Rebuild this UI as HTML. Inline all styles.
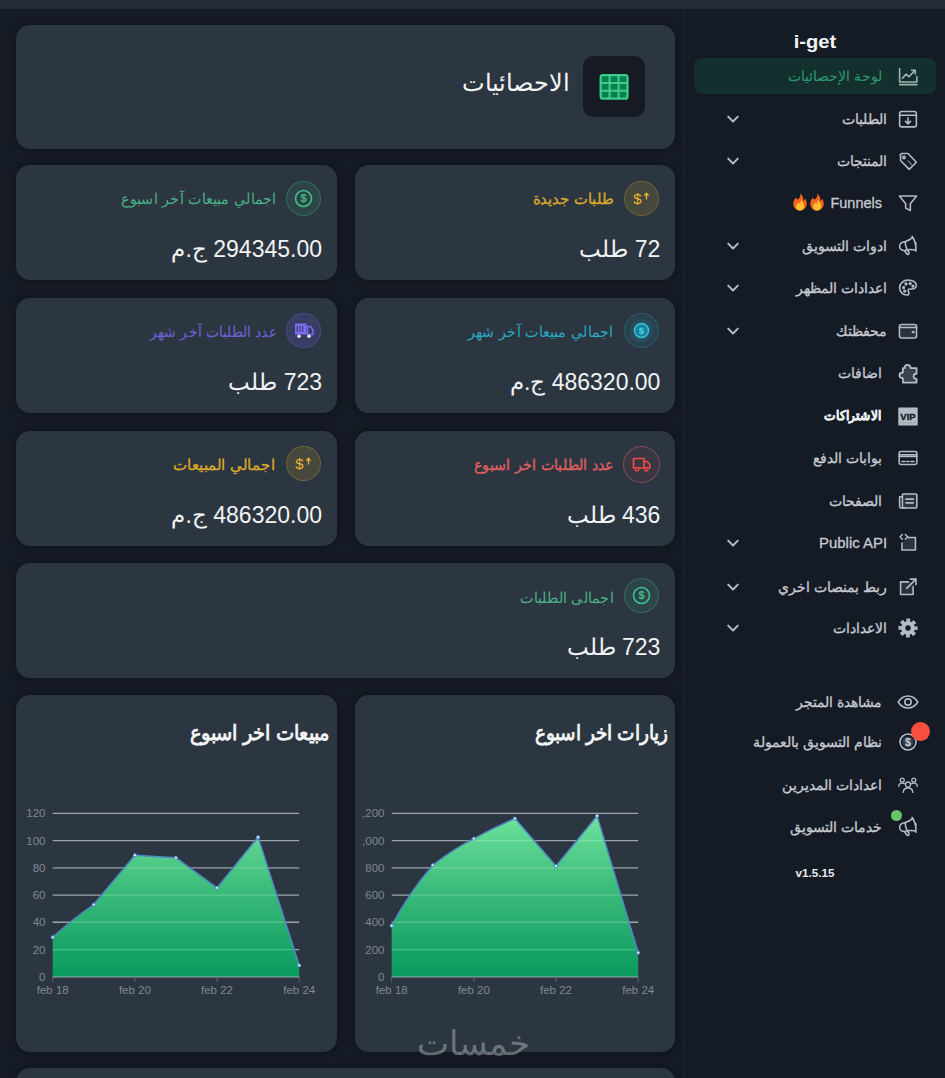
<!DOCTYPE html>
<html lang="ar" dir="rtl">
<head>
<meta charset="utf-8">
<title>i-get - الاحصائيات</title>
<style>
*{box-sizing:border-box;margin:0;padding:0}
html,body{width:945px;height:1078px;overflow:hidden}
body{background:#151b24;color:#e9ecef;font-family:"Liberation Sans",sans-serif;position:relative;direction:rtl}
.topbar{position:absolute;left:0;top:0;width:945px;height:9px;background:#252b34}
/* ---------- sidebar ---------- */
.side{position:absolute;left:686px;top:9px;width:259px;height:1069px;background:#151b24}
.vline{position:absolute;left:683.5px;top:9px;width:1.5px;height:1069px;background:#1d252f}
.brand{position:absolute;left:-1px;width:260px;top:21px;text-align:center;font-weight:bold;font-size:18px;line-height:24px;color:#f1f3f5;direction:ltr;transform:scaleX(1.12)}
.nav{position:absolute;left:8px;width:242px;height:36px;border-radius:8px}
.nav.active{background:#13302e}
.nav .ic{position:absolute;left:202px;top:6px;width:24px;height:24px}
.nav .ic svg{transform:scale(.93)}
.nav #i8 svg{transform:translateY(1px) scale(1.14)}
.nav #i9 svg{transform:none}
.nav .tx{position:absolute;right:54px;top:0;-webkit-text-stroke:.3px currentColor;height:36px;line-height:36px;font-size:14px;color:#c5cad2;white-space:nowrap}
.nav.ch .tx{right:49px}
.nav.active .tx{color:#2f9873;-webkit-text-stroke:0}
.nav .tx.b{right:55.5px;font-weight:bold;color:#eef0f3;font-size:12px;transform:scale(1.03,1.1);transform-origin:100% 50%}
.nav .tx.ltr{direction:ltr;font-size:14.5px}
.nav .chev{position:absolute;left:33px;top:14px;width:12px;height:9px}
.nav .ic svg,.nav .chev svg{display:block}
.fl2{display:inline-block;direction:ltr;white-space:nowrap}
.fl{display:inline-block;width:16px;height:18px;vertical-align:-3px;margin-right:1px}
.ver{position:absolute;left:-1.500px;width:260px;top:857px;transform:scaleX(1.06);text-align:center;font-weight:bold;font-size:11px;line-height:14px;color:#e8eaed;direction:ltr}
.dot-red{position:absolute;left:225px;top:713px;width:19px;height:19px;border-radius:50%;background:#f64e3f}
.dot-green{position:absolute;left:205px;top:801px;width:11px;height:11px;border-radius:50%;background:#66c466}
/* ---------- main ---------- */
.card{position:absolute;background:#2c3641;border-radius:14px;box-shadow:0 0 6px rgba(8,12,18,.55)}
.hicon{position:absolute;left:567px;top:31px;width:62px;height:61px;border-radius:10px;background:#161a23}
.htitle{position:absolute;right:105.5px;top:38px;font-size:24px;line-height:40px;color:#f3f4f6;white-space:nowrap}
.stat .circ{position:absolute;right:16px;top:15.5px;width:35px;height:35px;border-radius:50%;border:1px solid transparent}
.stat .circ svg{display:block;width:33px;height:33px}
.stat .lab{position:absolute;right:61.5px;top:18px;height:32px;line-height:32px;font-size:14px;transform:scale(1.045,1.1);transform-origin:100% 50%;white-space:nowrap}
.stat .val{position:absolute;right:14.6px;top:67px;height:34px;line-height:34px;font-size:23px;color:#f1f3f5;white-space:nowrap}
.ctitle{position:absolute;right:6.5px;top:21px;transform:scale(1.015,1.15);font-size:18px;font-weight:normal;-webkit-text-stroke:.7px #f5f6f7;transform-origin:100% 50%;line-height:34px;color:#f5f6f7;white-space:nowrap}
.wm{position:absolute;left:415px;top:1023px;width:116px;font-size:34px;line-height:40px;color:rgba(165,172,182,.55);white-space:nowrap;text-align:center}
</style>
</head>
<body>
<div class="topbar"></div>
<div class="vline"></div>

<!-- ================= MAIN ================= -->
<main>
<section class="card" style="left:16px;top:24.600px;width:659px;height:124px">
  <div class="hicon"><svg width="62" height="61" viewBox="0 0 62 61" style="display:block"><rect x="17.700" y="19.200" width="26.800" height="23.400" rx="2.200" fill="#0a7f4e" stroke="#3ccb8c" stroke-width="2.300"/><path d="M26.600 19.200v23.400M35.600 19.200v23.400M17.700 27h26.800M17.700 34.800h26.800" stroke="#3ccb8c" stroke-width="2.100" fill="none"/></svg></div>
  <h1 class="htitle" style="font-weight:normal">الاحصائيات</h1>
</section>

<section class="card stat" style="left:354.500px;top:165px;width:320.500px;height:115.400px">
  <div class="circ" id="c1" style="background:#e8b62c24;border-color:#e8b62c3c"><svg viewBox="0 0 33 33"><text x="12.500" y="21.800" font-family="Liberation Sans, sans-serif" font-weight="normal" font-size="15" text-anchor="middle" fill="#e8b62c" direction="ltr">$</text><path d="M21.5 17v-5.5M19.8 13.2l1.7-1.9 1.7 1.9" stroke="#e8b62c" stroke-width="1.3" fill="none" stroke-linecap="round" stroke-linejoin="round"/></svg></div><div class="lab" style="color:#d9a92b;-webkit-text-stroke:.3px #d9a92b;transform:scale(1.085,1.1)">طلبات جديدة</div><div class="val">72 طلب</div>
</section>
<section class="card stat" style="left:16px;top:165px;width:320.600px;height:115.400px">
  <div class="circ" id="c2" style="background:#3fbf881e;border-color:#3fbf8850"><svg viewBox="0 0 33 33"><circle cx="16.5" cy="16.5" r="8" fill="none" stroke="#3fbf88" stroke-width="1.6"/><text x="16.5" y="20.4" font-family="Liberation Sans, sans-serif" font-weight="bold" font-size="11" text-anchor="middle" fill="#3fbf88" direction="ltr">$</text></svg></div><div class="lab" style="color:#49b085;right:60px">اجمالي مبيعات آخر اسبوع</div><div class="val">294345.00 ج.م</div>
</section>

<section class="card stat" style="left:354.500px;top:297.500px;width:320.500px;height:115.600px">
  <div class="circ" id="c3" style="background:#1fa8c41c;border-color:#1fa8c440"><svg viewBox="0 0 33 33"><circle cx="16.500" cy="16.500" r="11.500" fill="#1fa8c4" opacity=".12"/><circle cx="16.500" cy="16.500" r="7" fill="#17839b" stroke="#39c4de" stroke-width="1.500"/><text x="16.500" y="19.900" font-family="Liberation Sans, sans-serif" font-weight="bold" font-size="9.500" text-anchor="middle" fill="#55d3ea" direction="ltr">$</text></svg></div><div class="lab" style="color:#2aa7c0">اجمالي مبيعات آخر شهر</div><div class="val">486320.00 ج.م</div>
</section>
<section class="card stat" style="left:16px;top:297.500px;width:320.600px;height:115.600px">
  <div class="circ" id="c4" style="background:#6a5ce636;border-color:#7b6cf040"><svg viewBox="0 0 33 33"><path d="M8 9.5h11.5v11H8z" fill="#7b6cf0"/><path d="M20.5 12.5h3l2.5 3.5v4.5h-5.5z" fill="none" stroke="#7b6cf0" stroke-width="1.5"/><path d="M10.2 12v6M13 12v6M15.8 12v6" stroke="#2c2b52" stroke-width=".9"/><circle cx="12" cy="22.300" r="1.800" fill="#e6e2ff"/><circle cx="22" cy="22.300" r="1.800" fill="#e6e2ff"/></svg></div><div class="lab" style="color:#6e63d6;right:60px;transform:scale(1.015,1.1)">عدد الطلبات آخر شهر</div><div class="val">723 طلب</div>
</section>

<section class="card stat" style="left:354.500px;top:430.500px;width:320.500px;height:115px">
  <div class="circ" id="c5" style="background:#ef4b4b12;border-color:#e0707a70;width:37px;height:37px;right:15.5px;top:15.5px;padding:1px"><svg viewBox="0 0 33 33"><path d="M8.5 10.5h10.5v9.5h-10.5z" fill="none" stroke="#ef4b4b" stroke-width="1.7" stroke-linejoin="round"/><path d="M19 13.5h3.2l2.6 3v3.5h-5.8" fill="none" stroke="#ef4b4b" stroke-width="1.7" stroke-linejoin="round"/><circle cx="12" cy="21.3" r="1.7" fill="#3b2d35" stroke="#ef4b4b" stroke-width="1.5"/><circle cx="21.3" cy="21.3" r="1.7" fill="#3b2d35" stroke="#ef4b4b" stroke-width="1.5"/></svg></div><div class="lab" style="color:#e06060;-webkit-text-stroke:.3px #e06060">عدد الطلبات اخر اسبوع</div><div class="val">436 طلب</div>
</section>
<section class="card stat" style="left:16px;top:430.500px;width:320.600px;height:115px">
  <div class="circ" id="c6" style="background:#e8b62c24;border-color:#e8b62c3c"><svg viewBox="0 0 33 33"><text x="12.500" y="21.800" font-family="Liberation Sans, sans-serif" font-weight="normal" font-size="15" text-anchor="middle" fill="#e8b62c" direction="ltr">$</text><path d="M21.5 17v-5.5M19.8 13.2l1.7-1.9 1.7 1.9" stroke="#e8b62c" stroke-width="1.3" fill="none" stroke-linecap="round" stroke-linejoin="round"/></svg></div><div class="lab" style="color:#d9a92b;-webkit-text-stroke:.3px #d9a92b;transform:scale(1.097,1.1)">اجمالي المبيعات</div><div class="val">486320.00 ج.م</div>
</section>

<section class="card stat" style="left:16px;top:562.800px;width:659px;height:115.500px">
  <div class="circ" id="c7" style="background:#3fbf881e;border-color:#3fbf8850"><svg viewBox="0 0 33 33"><circle cx="16.5" cy="16.5" r="8" fill="none" stroke="#3fbf88" stroke-width="1.6"/><text x="16.5" y="20.4" font-family="Liberation Sans, sans-serif" font-weight="bold" font-size="11" text-anchor="middle" fill="#3fbf88" direction="ltr">$</text></svg></div><div class="lab" style="color:#49b085">اجمالي الطلبات</div><div class="val">723 طلب</div>
</section>

<section class="card" style="left:354.500px;top:695px;width:320.500px;height:356.700px">
  <h2 class="ctitle">زيارات اخر اسبوع</h2>
  <svg class="chart" width="321" height="357" viewBox="0 0 321 357" style="position:absolute;left:0;top:0;direction:ltr"><defs><linearGradient id="g1" gradientUnits="userSpaceOnUse" x1="0" y1="118.4" x2="0" y2="281.8"><stop offset="0" stop-color="#6fe39c"/><stop offset=".45" stop-color="#3dbd7c"/><stop offset="1" stop-color="#0a9a5f"/></linearGradient><clipPath id="cp1"><rect x="6.5" y="100" width="320" height="220"/></clipPath><clipPath id="ca1"><path d="M36.7,281.8 L36.7,230.7 Q54.8,196.4 77.8,170.2 Q97.1,154.9 118.9,143.6 Q138.8,132.6 159.9,123.5 L201.0,171.0 L242.1,120.9 L283.2,257.7 L283.2,281.8 Z"/></clipPath></defs><g stroke="#9da4ac" stroke-width="1.4"><path d="M36.7 118.4H283.2"/><path d="M36.7 145.6H283.2"/><path d="M36.7 172.9H283.2"/><path d="M36.7 200.1H283.2"/><path d="M36.7 227.3H283.2"/><path d="M36.7 254.6H283.2"/><path d="M36.7 281.8H283.2"/></g><g stroke="#5b646e" stroke-width="1"><path d="M36.7 281.8v5.5"/><path d="M118.9 281.8v5.5"/><path d="M201.0 281.8v5.5"/><path d="M283.2 281.8v5.5"/></g><path d="M36.7,281.8 L36.7,230.7 Q54.8,196.4 77.8,170.2 Q97.1,154.9 118.9,143.6 Q138.8,132.6 159.9,123.5 L201.0,171.0 L242.1,120.9 L283.2,257.7 L283.2,281.8 Z" fill="url(#g1)"/><g clip-path="url(#ca1)" stroke="#ffffff" stroke-opacity=".2" stroke-width="1.4"><path d="M36.7 118.4H283.2"/><path d="M36.7 145.6H283.2"/><path d="M36.7 172.9H283.2"/><path d="M36.7 200.1H283.2"/><path d="M36.7 227.3H283.2"/><path d="M36.7 254.6H283.2"/><path d="M36.7 281.8H283.2"/></g><path d="M36.7,230.7 Q54.8,196.4 77.8,170.2 Q97.1,154.9 118.9,143.6 Q138.8,132.6 159.9,123.5 L201.0,171.0 L242.1,120.9 L283.2,257.7" fill="none" stroke="#4f86c4" stroke-width="1.5" stroke-linejoin="round"/><g fill="#dfeaff" stroke="#4a82c6" stroke-width=".9"><circle cx="36.7" cy="230.7" r="1.6"/><circle cx="77.8" cy="170.2" r="1.6"/><circle cx="118.9" cy="143.6" r="1.6"/><circle cx="159.9" cy="123.5" r="1.6"/><circle cx="201.0" cy="171.0" r="1.6"/><circle cx="242.1" cy="120.9" r="1.6"/><circle cx="283.2" cy="257.7" r="1.6"/></g><g clip-path="url(#cp1)" font-family="Liberation Sans, sans-serif" font-size="11.5" fill="#7f8892" text-anchor="end"><text x="29.5" y="122.4">1,200</text><text x="29.5" y="149.6">1,000</text><text x="29.5" y="176.9">800</text><text x="29.5" y="204.1">600</text><text x="29.5" y="231.3">400</text><text x="29.5" y="258.6">200</text><text x="29.5" y="285.8">0</text></g><g font-family="Liberation Sans, sans-serif" font-size="11.5" fill="#7f8892" text-anchor="middle"><text x="36.7" y="299">feb 18</text><text x="118.9" y="299">feb 20</text><text x="201.0" y="299">feb 22</text><text x="283.2" y="299">feb 24</text></g></svg>
</section>
<section class="card" style="left:16px;top:695px;width:320.600px;height:356.700px">
  <h2 class="ctitle" style="transform:scale(1.063,1.15)">مبيعات اخر اسبوع</h2>
  <svg class="chart" width="321" height="357" viewBox="0 0 321 357" style="position:absolute;left:0;top:0;direction:ltr"><defs><linearGradient id="g2" gradientUnits="userSpaceOnUse" x1="0" y1="118.4" x2="0" y2="281.8"><stop offset="0" stop-color="#6fe39c"/><stop offset=".45" stop-color="#3dbd7c"/><stop offset="1" stop-color="#0a9a5f"/></linearGradient><clipPath id="cp2"><rect x="0" y="100" width="320" height="220"/></clipPath><clipPath id="ca2"><path d="M36.7,281.8 L36.7,242.2 Q56.3,224.3 77.8,209.5 L118.9,160.2 L159.9,162.7 L201.0,192.9 L242.1,142.2 L283.2,270.3 L283.2,281.8 Z"/></clipPath></defs><g stroke="#9da4ac" stroke-width="1.4"><path d="M36.7 118.4H283.2"/><path d="M36.7 145.6H283.2"/><path d="M36.7 172.9H283.2"/><path d="M36.7 200.1H283.2"/><path d="M36.7 227.3H283.2"/><path d="M36.7 254.6H283.2"/><path d="M36.7 281.8H283.2"/></g><g stroke="#5b646e" stroke-width="1"><path d="M36.7 281.8v5.5"/><path d="M118.9 281.8v5.5"/><path d="M201.0 281.8v5.5"/><path d="M283.2 281.8v5.5"/></g><path d="M36.7,281.8 L36.7,242.2 Q56.3,224.3 77.8,209.5 L118.9,160.2 L159.9,162.7 L201.0,192.9 L242.1,142.2 L283.2,270.3 L283.2,281.8 Z" fill="url(#g2)"/><g clip-path="url(#ca2)" stroke="#ffffff" stroke-opacity=".2" stroke-width="1.4"><path d="M36.7 118.4H283.2"/><path d="M36.7 145.6H283.2"/><path d="M36.7 172.9H283.2"/><path d="M36.7 200.1H283.2"/><path d="M36.7 227.3H283.2"/><path d="M36.7 254.6H283.2"/><path d="M36.7 281.8H283.2"/></g><path d="M36.7,242.2 Q56.3,224.3 77.8,209.5 L118.9,160.2 L159.9,162.7 L201.0,192.9 L242.1,142.2 L283.2,270.3" fill="none" stroke="#4f86c4" stroke-width="1.5" stroke-linejoin="round"/><g fill="#dfeaff" stroke="#4a82c6" stroke-width=".9"><circle cx="36.7" cy="242.2" r="1.6"/><circle cx="77.8" cy="209.5" r="1.6"/><circle cx="118.9" cy="160.2" r="1.6"/><circle cx="159.9" cy="162.7" r="1.6"/><circle cx="201.0" cy="192.9" r="1.6"/><circle cx="242.1" cy="142.2" r="1.6"/><circle cx="283.2" cy="270.3" r="1.6"/></g><g clip-path="url(#cp2)" font-family="Liberation Sans, sans-serif" font-size="11.5" fill="#7f8892" text-anchor="end"><text x="29.5" y="122.4">120</text><text x="29.5" y="149.6">100</text><text x="29.5" y="176.9">80</text><text x="29.5" y="204.1">60</text><text x="29.5" y="231.3">40</text><text x="29.5" y="258.6">20</text><text x="29.5" y="285.8">0</text></g><g font-family="Liberation Sans, sans-serif" font-size="11.5" fill="#7f8892" text-anchor="middle"><text x="36.7" y="299">feb 18</text><text x="118.9" y="299">feb 20</text><text x="201.0" y="299">feb 22</text><text x="283.2" y="299">feb 24</text></g></svg>
</section>

<section class="card" style="left:16px;top:1068px;width:659px;height:60px"></section>
<div class="wm">خمسات</div>
</main>

<!-- ================= SIDEBAR ================= -->
<aside class="side">
  <div class="brand">i-get</div>
  <nav>
  <div class="nav active" style="top:49px"><span class="ic" id="i1"><svg width="24" height="24" viewBox="0 0 24 24" fill="none" stroke="#9fb4b0" stroke-width="1.700" stroke-linecap="round" stroke-linejoin="round"><path d="M3 4v14.500h18.500v-6"/><path d="M3 21.300h18.500"/><path d="M6 14.500l4-4.500 3 2.800 6.500-6.800"/><path d="M15.800 5.800h4v4"/></svg></span><span class="tx">لوحة الإحصائيات</span></div>
  <div class="nav ch" style="top:92px"><span class="ic" id="i2"><svg width="24" height="24" viewBox="0 0 24 24" fill="none" stroke="#b4bbc6" stroke-width="1.700" stroke-linecap="round" stroke-linejoin="round"><rect x="3" y="4" width="18" height="16.500" rx="2"/><path d="M3 8h18"/><path d="M12 10.800v6.200M9.300 14.500l2.700 2.700 2.700-2.700"/></svg></span><span class="tx">الطلبات</span><span class="chev"><svg width="12" height="9" viewBox="0 0 12 9"><path d="M1.2 1.6l4.8 4.9 4.8-4.9" fill="none" stroke="#b7bdc7" stroke-width="1.9" stroke-linecap="round" stroke-linejoin="round"/></svg></span></div>
  <div class="nav ch" style="top:134px"><span class="ic" id="i3"><svg width="24" height="24" viewBox="0 0 24 24" fill="none" stroke="#b4bbc6" stroke-width="1.700" stroke-linecap="round" stroke-linejoin="round"><path d="M3.500 5.500l1.500-1.500h7l9 9.300-7.700 7.700-9.300-9.500v-6z"/><circle cx="7.700" cy="8.200" r="1.300"/><path d="M12 12l3.500 3.500" opacity=".55"/></svg></span><span class="tx">المنتجات</span><span class="chev"><svg width="12" height="9" viewBox="0 0 12 9"><path d="M1.2 1.6l4.8 4.9 4.8-4.9" fill="none" stroke="#b7bdc7" stroke-width="1.9" stroke-linecap="round" stroke-linejoin="round"/></svg></span></div>
  <div class="nav" style="top:176px"><span class="ic" id="i4"><svg width="24" height="24" viewBox="0 0 24 24" fill="none" stroke="#b4bbc6" stroke-width="1.700" stroke-linecap="round" stroke-linejoin="round"><path d="M2.800 4.500h18.400l-6.700 8.200v7.300l-5-2.500v-4.800z"/></svg></span><span class="tx" style="font-size:14.5px">Funnels <span class="fl2"><svg class="fl" viewBox="0 0 16 18"><path d="M8.2.6c.6 2.6-.4 4-1.7 5.300C5.300 7.100 3.900 5.800 4 4.200 2.500 5.900 1.300 8.200 1.300 10.700c0 3.800 2.900 6.800 6.700 6.800s6.700-3 6.700-6.800c0-2.200-.8-3.900-1.700-5.100-.2 1.200-.8 1.900-1.600 2.300C11.600 5 10.500 2.200 8.200.6z" fill="#f4651f"/><path d="M8 17.500c-2.300 0-4-1.600-4-3.800 0-1.900 1.200-3.100 2.400-4.300.5 1 1.300 1.400 1.900 1.300-.2-1.500.4-2.800 1.300-3.600.2 1.800 2.500 3.300 2.500 6.400 0 2.300-1.800 4-4.100 4z" fill="#ffc12e"/></svg><svg class="fl" viewBox="0 0 16 18"><path d="M8.2.6c.6 2.6-.4 4-1.7 5.300C5.300 7.100 3.900 5.800 4 4.200 2.500 5.900 1.300 8.200 1.300 10.700c0 3.800 2.900 6.800 6.700 6.800s6.700-3 6.700-6.800c0-2.200-.8-3.900-1.700-5.100-.2 1.200-.8 1.900-1.600 2.300C11.600 5 10.500 2.200 8.200.6z" fill="#f4651f"/><path d="M8 17.500c-2.300 0-4-1.600-4-3.800 0-1.900 1.200-3.100 2.400-4.300.5 1 1.300 1.400 1.900 1.300-.2-1.500.4-2.800 1.300-3.600.2 1.800 2.500 3.300 2.500 6.400 0 2.300-1.800 4-4.100 4z" fill="#ffc12e"/></svg></span></span></div>
  <div class="nav ch" style="top:219px"><span class="ic" id="i5"><svg width="24" height="24" viewBox="0 0 24 24" fill="none" stroke="#b4bbc6" stroke-width="1.700" stroke-linecap="round" stroke-linejoin="round"><g transform="rotate(-14 12 12)"><path d="M10.340 15.840c-.688-.06-1.386-.09-2.090-.09H7.500a4.500 4.500 0 1 1 0-9h.750c.704 0 1.402-.03 2.090-.09m0 9.180c.253.962.584 1.892.985 2.783.247.550.06 1.210-.463 1.511l-.657.380c-.551.318-1.260.117-1.527-.461a20.845 20.845 0 0 1-1.440-4.282m3.102.069a18.030 18.030 0 0 1-.590-4.590c0-1.586.205-3.124.590-4.590m0 9.180a23.848 23.848 0 0 1 8.835 2.535M10.340 6.660a23.847 23.847 0 0 0 8.835-2.535m0 0A23.740 23.740 0 0 0 18.795 3m.380 1.125a23.910 23.910 0 0 1 1.014 5.395m-1.014 8.855c-.118.380-.245.754-.380 1.125m.380-1.125a23.910 23.910 0 0 0 1.014-5.395m0-3.460c.495.413.811 1.035.811 1.730 0 .695-.316 1.317-.811 1.730m0-3.460a24.347 24.347 0 0 1 0 3.460"/></g></svg></span><span class="tx">ادوات التسويق</span><span class="chev"><svg width="12" height="9" viewBox="0 0 12 9"><path d="M1.2 1.6l4.8 4.9 4.8-4.9" fill="none" stroke="#b7bdc7" stroke-width="1.9" stroke-linecap="round" stroke-linejoin="round"/></svg></span></div>
  <div class="nav ch" style="top:261px"><span class="ic" id="i6"><svg width="24" height="24" viewBox="0 0 24 24" fill="none" stroke="#b4bbc6" stroke-width="1.700" stroke-linecap="round" stroke-linejoin="round"><path d="M12 3.500c-5 0-9 3.600-9 8.300 0 4.300 3.400 7.700 7.800 7.700 1.500 0 2.200-.9 2.200-1.900 0-1.300-.9-1.600-.9-2.800 0-1 .8-1.700 1.900-1.700h2.300c2.600 0 4.700-1.700 4.700-4 0-3.300-3.900-5.600-9-5.600z"/><circle cx="7.300" cy="11.500" r=".9" fill="#b4bbc6"/><circle cx="9.800" cy="7.700" r=".9" fill="#b4bbc6"/><circle cx="14.300" cy="7.200" r=".9" fill="#b4bbc6"/><circle cx="17.300" cy="10" r=".9" fill="#b4bbc6"/><circle cx="8.500" cy="15.300" r=".9" fill="#b4bbc6"/></svg></span><span class="tx">اعدادات المظهر</span><span class="chev"><svg width="12" height="9" viewBox="0 0 12 9"><path d="M1.2 1.6l4.8 4.9 4.8-4.9" fill="none" stroke="#b7bdc7" stroke-width="1.9" stroke-linecap="round" stroke-linejoin="round"/></svg></span></div>
  <div class="nav ch" style="top:304px"><span class="ic" id="i7"><svg width="24" height="24" viewBox="0 0 24 24" fill="none" stroke="#b4bbc6" stroke-width="1.700" stroke-linecap="round" stroke-linejoin="round"><rect x="2.800" y="5" width="18.400" height="14.500" rx="2" fill="#2a323d"/><path d="M2.800 8.300h18.400"/><path d="M17 13.200h1.200" stroke-width="2.200"/></svg></span><span class="tx">محفظتك</span><span class="chev"><svg width="12" height="9" viewBox="0 0 12 9"><path d="M1.2 1.6l4.8 4.9 4.8-4.9" fill="none" stroke="#b7bdc7" stroke-width="1.9" stroke-linecap="round" stroke-linejoin="round"/></svg></span></div>
  <div class="nav" style="top:346px"><span class="ic" id="i8"><svg width="24" height="24" viewBox="0 0 24 24" fill="none" stroke="#b4bbc6" stroke-width="1.6" stroke-linecap="round" stroke-linejoin="round"><path d="M9 6.800c0-1.800 1.100-2.800 2.600-2.800s2.600 1 2.600 2.800h5.300v5c-1.700 0-2.600.9-2.600 2.200s.9 2.200 2.600 2.200v3.300h-12v-3.800c-1.900 0-3-1-3-2.500s1.100-2.500 3-2.500v-3.900z" fill="#3a434f"/></svg></span><span class="tx">اضافات</span></div>
  <div class="nav" style="top:389px"><span class="ic" id="i9"><svg width="24" height="24" viewBox="0 0 24 24"><rect x="2.300" y="3.600" width="19.400" height="18" rx=".800" fill="#b4bbc6"/><text x="12" y="15.600" font-family="Liberation Sans, sans-serif" font-weight="bold" font-size="9.500" text-anchor="middle" fill="#161d27" stroke="#161d27" stroke-width=".35" direction="ltr">VIP</text><path d="M4.500 18.800h15" stroke="#8e96a2" stroke-width="1" stroke-dasharray="1.500 1"/></svg></span><span class="tx b">الاشتراكات</span></div>
  <div class="nav" style="top:431px"><span class="ic" id="i10"><svg width="24" height="24" viewBox="0 0 24 24" fill="none" stroke="#b4bbc6" stroke-width="1.700" stroke-linecap="round" stroke-linejoin="round"><rect x="2.500" y="5" width="19" height="14" rx="1.800"/><path d="M2.500 8.500h19M2.500 10.300h19"/><path d="M5.500 15.800h3M10.500 15.800h2.500M15 15.800h3.500" stroke-width="1.700"/></svg></span><span class="tx">بوابات الدفع</span></div>
  <div class="nav" style="top:474px"><span class="ic" id="i11"><svg width="24" height="24" viewBox="0 0 24 24" fill="none" stroke="#b4bbc6" stroke-width="1.700" stroke-linecap="round" stroke-linejoin="round"><rect x="6" y="4.500" width="15.500" height="15" rx="1" fill="#2a323d"/><path d="M6 7.500h-3v10.500a1.500 1.500 0 0 0 1.500 1.500h4"/><path d="M10 10h7.500M10 14h7.500" stroke-width="2.100"/></svg></span><span class="tx">الصفحات</span></div>
  <div class="nav ch" style="top:516px"><span class="ic" id="i12"><svg width="24" height="24" viewBox="0 0 24 24" fill="none" stroke="#b4bbc6" stroke-width="1.700" stroke-linecap="round" stroke-linejoin="round"><path d="M12 6h8v13.500h-14.500v-7.500z" fill="#2a323d" stroke="none"/><path d="M12 6h8v13.500h-14.500v-7.500"/><path d="M6 2.800l-2.600 2.600 2.600 2.600M9 2.800l2.600 2.600-2.600 2.600" stroke-width="1.500"/></svg></span><span class="tx ltr" style="transform:scaleX(1.03);transform-origin:100% 50%">Public API</span><span class="chev"><svg width="12" height="9" viewBox="0 0 12 9"><path d="M1.2 1.6l4.8 4.9 4.8-4.9" fill="none" stroke="#b7bdc7" stroke-width="1.9" stroke-linecap="round" stroke-linejoin="round"/></svg></span></div>
  <div class="nav ch" style="top:560px"><span class="ic" id="i13"><svg width="24" height="24" viewBox="0 0 24 24" fill="none" stroke="#b4bbc6" stroke-width="1.700" stroke-linecap="round" stroke-linejoin="round"><path d="M4 6.500h13.500v13.500h-13.500z" fill="#2a323d" stroke="none"/><path d="M12.500 6.500h-8.500v13.500h13.500v-8.500"/><path d="M10.500 13.500l10-10"/><path d="M14.500 3.500h6v6"/></svg></span><span class="tx">ربط بمنصات اخري</span><span class="chev"><svg width="12" height="9" viewBox="0 0 12 9"><path d="M1.2 1.6l4.8 4.9 4.8-4.9" fill="none" stroke="#b7bdc7" stroke-width="1.9" stroke-linecap="round" stroke-linejoin="round"/></svg></span></div>
  <div class="nav ch" style="top:601px"><span class="ic" id="i14"><svg width="24" height="24" viewBox="0 0 24 24"><circle cx="12" cy="12" r="8.400" fill="none" stroke="#b4bbc6" stroke-width="3.800" stroke-dasharray="3.900 2.697" stroke-dashoffset="1.950"/><circle cx="12" cy="12" r="5.200" fill="none" stroke="#b4bbc6" stroke-width="4.600"/></svg></span><span class="tx">الاعدادات</span><span class="chev"><svg width="12" height="9" viewBox="0 0 12 9"><path d="M1.2 1.6l4.8 4.9 4.8-4.9" fill="none" stroke="#b7bdc7" stroke-width="1.9" stroke-linecap="round" stroke-linejoin="round"/></svg></span></div>

  <div class="nav" style="top:675px"><span class="ic" id="i15"><svg width="24" height="24" viewBox="0 0 24 24" fill="none" stroke="#b4bbc6" stroke-width="1.700" stroke-linecap="round" stroke-linejoin="round"><path d="M1.500 12c2.600-4.300 6.200-6.500 10.500-6.500s7.900 2.200 10.500 6.500c-2.600 4.300-6.200 6.500-10.500 6.500s-7.900-2.200-10.500-6.500z"/><circle cx="12" cy="12" r="3.400"/></svg></span><span class="tx">مشاهدة المتجر</span></div>
  <div class="nav" style="top:715px"><span class="ic" id="i16"><svg width="24" height="24" viewBox="0 0 24 24"><circle cx="12" cy="12" r="8.600" fill="none" stroke="#b4bbc6" stroke-width="1.700"/><circle cx="12" cy="12" r="6" fill="#39414c"/><text x="12" y="16" font-family="Liberation Sans, sans-serif" font-weight="bold" font-size="11.500" text-anchor="middle" fill="#c9ced6" direction="ltr">$</text></svg></span><span class="tx">نظام التسويق بالعمولة</span></div>
  <div class="nav" style="top:758px"><span class="ic" id="i17"><svg width="24" height="24" viewBox="0 0 24 24" fill="none" stroke="#b4bbc6" stroke-width="1.4" stroke-linecap="round" stroke-linejoin="round"><circle cx="12" cy="11.500" r="2.700"/><path d="M6.800 20c.2-3 2.300-4.800 5.200-4.800s5 1.800 5.200 4.800"/><circle cx="5.800" cy="6.800" r="2.100"/><path d="M2 13.500c.1-2.300 1.500-3.600 3.800-3.600 1 0 1.800.3 2.400.8"/><circle cx="18.200" cy="6.800" r="2.100"/><path d="M22 13.500c-.1-2.300-1.500-3.600-3.800-3.600-1 0-1.800.3-2.400.8"/></svg></span><span class="tx">اعدادات المديرين</span></div>
  <div class="nav" style="top:800px"><span class="ic" id="i18"><svg width="24" height="24" viewBox="0 0 24 24" fill="none" stroke="#b4bbc6" stroke-width="1.700" stroke-linecap="round" stroke-linejoin="round"><g transform="rotate(-14 12 12)"><path d="M10.340 15.840c-.688-.06-1.386-.09-2.090-.09H7.500a4.500 4.500 0 1 1 0-9h.750c.704 0 1.402-.03 2.090-.09m0 9.180c.253.962.584 1.892.985 2.783.247.550.06 1.210-.463 1.511l-.657.380c-.551.318-1.260.117-1.527-.461a20.845 20.845 0 0 1-1.440-4.282m3.102.069a18.030 18.030 0 0 1-.590-4.590c0-1.586.205-3.124.590-4.590m0 9.180a23.848 23.848 0 0 1 8.835 2.535M10.340 6.660a23.847 23.847 0 0 0 8.835-2.535m0 0A23.740 23.740 0 0 0 18.795 3m.380 1.125a23.910 23.910 0 0 1 1.014 5.395m-1.014 8.855c-.118.380-.245.754-.380 1.125m.380-1.125a23.910 23.910 0 0 0 1.014-5.395m0-3.460c.495.413.811 1.035.811 1.730 0 .695-.316 1.317-.811 1.730m0-3.460a24.347 24.347 0 0 1 0 3.460"/></g></svg></span><span class="tx">خدمات التسويق</span></div>
  </nav>
  <div class="dot-red"></div>
  <div class="dot-green"></div>
  <div class="ver">v1.5.15</div>
</aside>
</body>
</html>
